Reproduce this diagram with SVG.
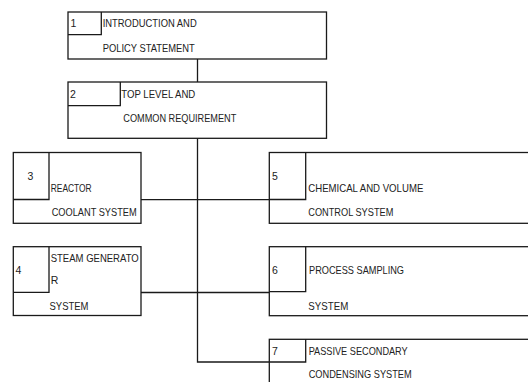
<svg xmlns="http://www.w3.org/2000/svg" width="528" height="382" viewBox="0 0 528 382">
<style>
.box{fill:#fff;stroke:#1a1a1a;stroke-width:1.3}
.in{fill:none;stroke:#1a1a1a;stroke-width:1.3}
.ln{fill:none;stroke:#1a1a1a;stroke-width:1.3}
text{font-family:"Liberation Sans",Arial,sans-serif;font-size:10.5px;fill:#222}
</style>
<rect width="528" height="382" fill="#fff"/>
<g id="connectors">
<line class="ln" x1="197.5" y1="59" x2="197.5" y2="82"/>
<polyline class="ln" points="197.5,138 197.5,362 269,362"/>
<line class="ln" x1="141" y1="199.7" x2="269" y2="199.7"/>
<line class="ln" x1="141" y1="292.5" x2="269" y2="292.5"/>
</g>
<g id="node1">
<rect class="box" x="68" y="12" width="258.5" height="47"/>
<polyline class="in" points="68,34.7 101.3,34.7 101.3,12"/>
<text x="70.5" y="27">1</text>
<text x="102.7" y="27" textLength="94" lengthAdjust="spacingAndGlyphs">INTRODUCTION AND</text>
<text x="102.7" y="51.5" textLength="92" lengthAdjust="spacingAndGlyphs">POLICY STATEMENT</text>
</g>
<g id="node2">
<rect class="box" x="68" y="82" width="258.5" height="56.3"/>
<polyline class="in" points="68,105.7 120.3,105.7 120.3,82"/>
<text x="70" y="97.7">2</text>
<text x="121.3" y="97.7" textLength="74" lengthAdjust="spacingAndGlyphs">TOP LEVEL AND</text>
<text x="123.3" y="121.7" textLength="113" lengthAdjust="spacingAndGlyphs">COMMON REQUIREMENT</text>
</g>
<g id="node3">
<rect class="box" x="13.3" y="152.5" width="127.7" height="70.8"/>
<polyline class="in" points="13.3,199.5 49,199.5 49,152.5"/>
<text x="27.5" y="180">3</text>
<text x="50.7" y="191.7" textLength="41" lengthAdjust="spacingAndGlyphs">REACTOR</text>
<text x="51.7" y="216" textLength="85" lengthAdjust="spacingAndGlyphs">COOLANT SYSTEM</text>
</g>
<g id="node4">
<rect class="box" x="13.3" y="246.7" width="127.7" height="68.8"/>
<polyline class="in" points="13.3,292.3 49,292.3 49,246.7"/>
<text x="15.5" y="274">4</text>
<text x="50.7" y="262.3" textLength="88" lengthAdjust="spacingAndGlyphs">STEAM  GENERATO</text>
<text x="50.7" y="284.3">R</text>
<text x="49.5" y="309.5" textLength="39" lengthAdjust="spacingAndGlyphs">SYSTEM</text>
</g>
<g id="node5">
<rect class="box" x="269.3" y="152.5" width="280" height="70.8"/>
<polyline class="in" points="269.3,199.5 305.7,199.5 305.7,152.5"/>
<text x="272" y="180">5</text>
<text x="308.3" y="191.7" textLength="115" lengthAdjust="spacingAndGlyphs">CHEMICAL AND VOLUME</text>
<text x="308.3" y="216" textLength="85" lengthAdjust="spacingAndGlyphs">CONTROL SYSTEM</text>
</g>
<g id="node6">
<rect class="box" x="269.3" y="246.7" width="280" height="69"/>
<polyline class="in" points="269.3,291.7 305.7,291.7 305.7,246.7"/>
<text x="272" y="274">6</text>
<text x="309" y="274" textLength="95" lengthAdjust="spacingAndGlyphs">PROCESS SAMPLING</text>
<text x="308.3" y="309.5" textLength="40" lengthAdjust="spacingAndGlyphs">SYSTEM</text>
</g>
<g id="node7">
<rect class="box" x="269.3" y="339.3" width="280" height="60"/>
<polyline class="in" points="269.3,362 305.7,362 305.7,339.3"/>
<text x="272" y="355">7</text>
<text x="308.7" y="355" textLength="99" lengthAdjust="spacingAndGlyphs">PASSIVE SECONDARY</text>
<text x="308.7" y="378.3" textLength="103" lengthAdjust="spacingAndGlyphs">CONDENSING SYSTEM</text>
</g>
</svg>
